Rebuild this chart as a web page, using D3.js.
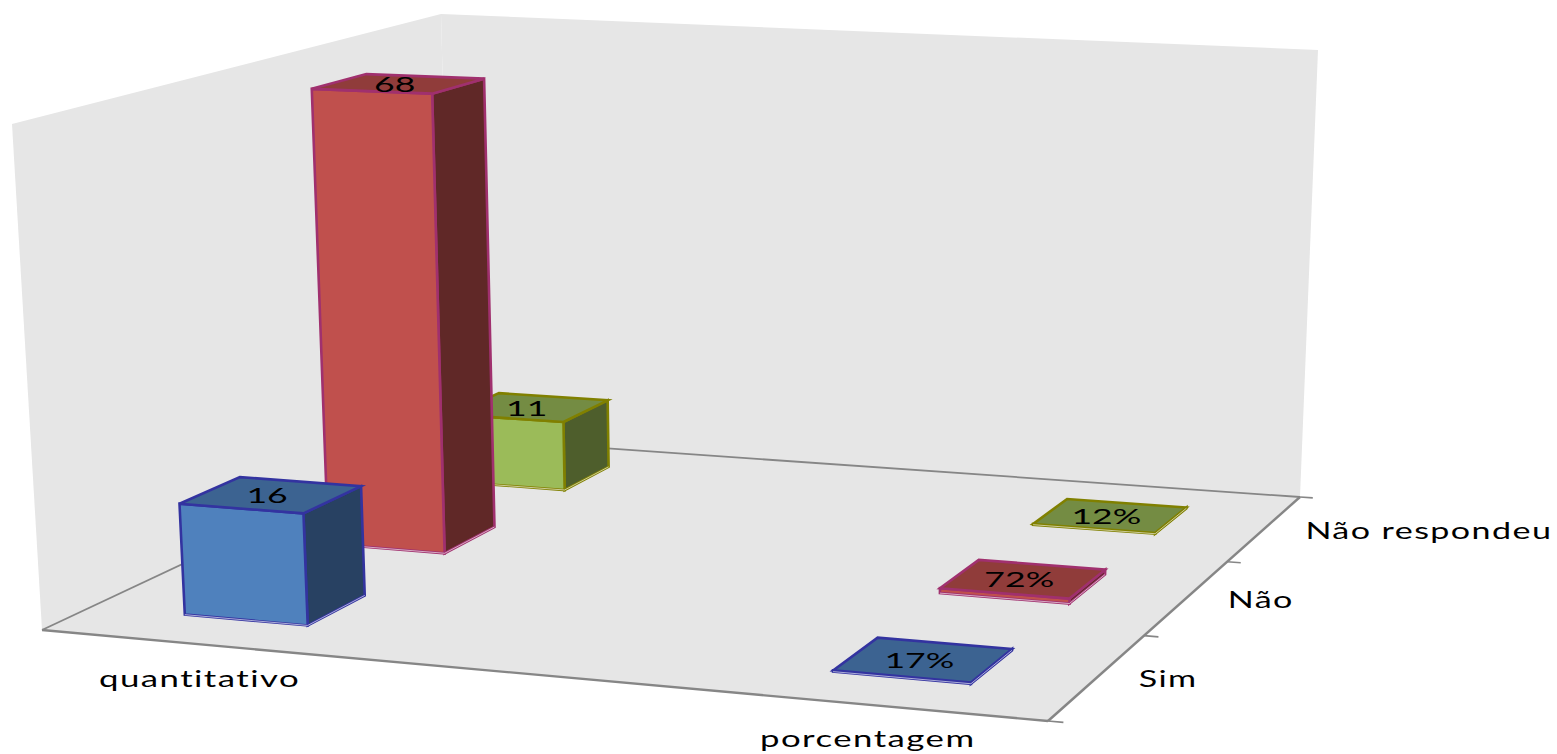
<!DOCTYPE html>
<html>
<head>
<meta charset="utf-8">
<script src="https://d3js.org/d3.v7.min.js"></script>
<style>
  html, body { margin: 0; background: #fff; }
  svg { display: block; }
  text { font-family: Lato, "Open Sans", sans-serif; fill: #000; }
</style>
</head>
<body>
<svg id="chart" width="1557" height="754"></svg>
<script>
  var categories = ["quantitativo", "porcentagem"];
  var seriesNames = ["Sim", "Não", "Não respondeu"];
  var sim = [16, 0.17];
  var nao = [68, 0.72];
  var naoRespondeu = [11, 0.12];
  var seriesValues = [sim, nao, naoRespondeu];
  var valueLabels = [d3.format("d"), d3.format(".0%")];
  var axisMax = 70;

  var w = 1557, h = 754;
  var svg = d3.select("#chart");

  // floor corners and wall tops of the 3d box
  var A = [42, 630], B = [1048, 721], C = [1300, 497], D = [452, 437.5];
  var topFrontLeft = [12, 124], topBackLeft = [441, 14], topBackRight = [1318, 50];
  // verticals all meet here, far below the chart
  var V = [788, 13206];

  var colors = [
    {front: "#4f81bd", top: "#3c6391", side: "#284162", line: "#3333a0"},
    {front: "#c0504d", top: "#903c3a", side: "#602827", line: "#a0306e"},
    {front: "#9bbb59", top: "#748c43", side: "#4e5e2c", line: "#808000"}
  ];

  // homography of the unit square on to the floor
  var dx1 = B[0] - C[0], dy1 = B[1] - C[1];
  var dx2 = D[0] - C[0], dy2 = D[1] - C[1];
  var sx = A[0] - B[0] + C[0] - D[0], sy = A[1] - B[1] + C[1] - D[1];
  var det = dx1 * dy2 - dy1 * dx2;
  var g = (sx * dy2 - sy * dx2) / det;
  var k = (dx1 * sy - dy1 * sx) / det;
  var a = B[0] - A[0] + g * B[0], b = D[0] - A[0] + k * D[0];
  var d = B[1] - A[1] + g * B[1], e = D[1] - A[1] + k * D[1];

  function project(u, v, r) {
    var q = g * u + k * v + 1 + r;
    return [(a * u + b * v + A[0] + V[0] * r) / q, (d * u + e * v + A[1] + V[1] * r) / q];
  }

  var xScale = d3.scalePoint().domain(categories).range([0, 1]).padding(0.252);
  var barWidth = 0.132;
  var depthScale = d3.scaleBand().domain(seriesNames).range([0.003, 1.003]).paddingInner(0.6).paddingOuter(0.3);
  var zScale = d3.scaleLinear().domain([0, axisMax]).range([0, -0.0387]);

  function poly(pts) { return "M" + pts.map(function(p) { return p.join(","); }).join("L") + "Z"; }
  function open(pts) { return "M" + pts.map(function(p) { return p.join(","); }).join("L"); }

  // walls and floor
  var room = svg.append("g");
  room.selectAll("path").data([
    [A, topFrontLeft, topBackLeft, D],
    [D, topBackLeft, topBackRight, C],
    [A, B, C, D]
  ]).enter().append("path").attr("d", poly).attr("fill", "#e6e6e6");

  room.append("path").attr("d", open([A, B])).attr("fill", "none").attr("stroke", "#868686").attr("stroke-width", 2.4);
  room.append("path").attr("d", open([B, C])).attr("fill", "none").attr("stroke", "#868686").attr("stroke-width", 2.4);
  room.append("path").attr("d", open([C, D])).attr("fill", "none").attr("stroke", "#868686").attr("stroke-width", 1.8);
  room.append("path").attr("d", open([D, A])).attr("fill", "none").attr("stroke", "#868686").attr("stroke-width", 1.8);

  // depth axis ticks at the band edges
  d3.range(0, 4).forEach(function(i) {
    var v = i / 3;
    room.append("path").attr("d", open([project(1, v, 0), project(1.014, v, 0)]))
      .attr("fill", "none").attr("stroke", "#868686").attr("stroke-width", 1.6);
  });

  // bars, back row first so the nearer ones cover them
  var bars = [];
  seriesNames.forEach(function(name, s) {
    categories.forEach(function(cat, c) {
      bars.push({s: s, c: c, name: name, cat: cat, value: seriesValues[s][c]});
    });
  });
  bars.sort(function(p, q) { return q.s - p.s; });

  var barG = svg.append("g").selectAll("g").data(bars).enter().append("g")
    .attr("stroke-width", 2.6).attr("stroke-linejoin", "miter");

  function corners(o) {
    var u0 = xScale(o.cat) - barWidth / 2, u1 = u0 + barWidth;
    var v0 = depthScale(o.name), v1 = v0 + depthScale.bandwidth();
    var r = zScale(o.value);
    return {
      fl: project(u0, v0, 0), fr: project(u1, v0, 0), br: project(u1, v1, 0),
      tfl: project(u0, v0, r), tfr: project(u1, v0, r), tbr: project(u1, v1, r), tbl: project(u0, v1, r),
      center: project((u0 + u1) / 2, (v0 + v1) / 2, r)
    };
  }

  barG.append("path").attr("d", function(o) { var p = corners(o); return poly([p.tfr, p.tbr, p.br, p.fr]); })
    .attr("fill", function(o) { return colors[o.s].side; })
    .attr("stroke", function(o) { return colors[o.s].line; });
  barG.append("path").attr("d", function(o) { var p = corners(o); return poly([p.tfl, p.tfr, p.fr, p.fl]); })
    .attr("fill", function(o) { return colors[o.s].front; })
    .attr("stroke", function(o) { return colors[o.s].line; });
  barG.append("path").attr("d", function(o) { var p = corners(o); return poly([p.tfl, p.tfr, p.tbr, p.tbl]); })
    .attr("fill", function(o) { return colors[o.s].top; })
    .attr("stroke", function(o) { return colors[o.s].line; });
  // pale edge along the foot of each bar
  barG.append("path").attr("d", function(o) { var p = corners(o); return open([p.fl, p.fr, p.br]); })
    .attr("fill", "none").attr("stroke", "#fff").attr("stroke-width", 0.8).attr("stroke-opacity", 0.75);

  function label(sel, size, spacing) {
    sel.attr("font-size", size).attr("letter-spacing", spacing)
      .attr("dominant-baseline", "central");
  }

  // value labels sit on the top faces
  svg.append("g").selectAll("text").data(bars).enter().append("text")
    .attr("transform", function(o) {
      var p = corners(o).center;
      return "translate(" + (p[0] - 4) + "," + p[1] + ") scale(1.62,1)";
    })
    .attr("text-anchor", "middle")
    .text(function(o) { return valueLabels[o.c](o.value); })
    .call(label, 22, 0);

  // category labels under the front edge
  svg.append("g").selectAll("text").data(categories).enter().append("text")
    .attr("transform", function(c) {
      var p = project(xScale(c), 0, 0);
      return "translate(" + (p[0] + 1) + "," + (p[1] + 33) + ") scale(1.45,1)";
    })
    .attr("text-anchor", "middle")
    .text(function(c) { return c; })
    .call(label, 24, 1);

  // series labels to the right of the depth axis
  svg.append("g").selectAll("text").data(seriesNames).enter().append("text")
    .attr("transform", function(s) {
      var p = project(1, depthScale(s) + depthScale.bandwidth() / 2, 0);
      return "translate(" + (p[0] + 40) + "," + (p[1] + 2) + ") scale(1.42,1)";
    })
    .text(function(s) { return s; })
    .call(label, 24, 1);
</script>
</body>
</html>
